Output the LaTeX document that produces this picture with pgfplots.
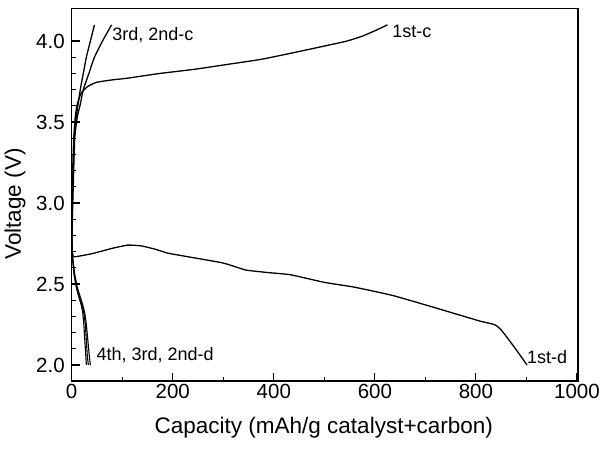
\documentclass[border=0pt]{standalone}
\usepackage{pgfplots}
\pgfplotsset{compat=1.18}
\usepackage{fontspec}
\setmainfont{Liberation Sans}
\begin{document}
\begin{tikzpicture}[x=1pt,y=1pt]
\path[use as bounding box] (0,0) rectangle (600,451);
\begin{axis}[
  at={(71.7pt,70pt)}, anchor=south west,
  scale only axis, width=506.3pt, height=372.7pt,
  xmin=0, xmax=1002, ymin=1.901, ymax=4.202,
  xtick={0,200,...,1000}, ytick={2.0,2.5,...,4.0},
  minor x tick num=1, minor y tick num=4,
  tick pos=left, tick align=inside,
  major tick length=8pt, minor tick length=4pt,
  axis line style={line width=1.3pt},
  every tick/.style={line width=1.1pt, black},
  /pgf/number format/assume math mode=true,
  yticklabel style={/pgf/number format/fixed, /pgf/number format/fixed zerofill, /pgf/number format/precision=1, xshift=-3.5pt},
  xticklabel style={/pgf/number format/1000 sep={}},
  tick label style={font=\fontsize{20.5}{22}\selectfont},
  xlabel={Capacity (mAh/g catalyst+carbon)},
  ylabel={Voltage (V)},
  label style={font=\fontsize{22.5}{25}\selectfont},
  xlabel style={at={(axis description cs:0.498,-0.142)}, anchor=base},
  ylabel style={at={(axis description cs:-0.112,0.475)}, anchor=center},
]
% 1st charge
\addplot[black, line width=1.3pt, smooth, tension=0.3] coordinates {(0,2.70) (1,3.0) (2,3.2) (4,3.4) (7,3.53) (11,3.61) (19,3.68) (32,3.72) (49,3.745) (80,3.76) (109,3.77) (175,3.80) (242,3.825) (309,3.856) (375,3.887) (442,3.93) (509,3.975) (545,4.0) (575,4.03) (602,4.066) (625,4.10)};
% 2nd, 3rd charge
\addplot[black, line width=1.3pt, smooth, tension=0.3] coordinates {(0,2.75) (2,3.1) (5,3.4) (9,3.53) (17,3.70) (23,3.80) (29,3.90) (37,4.00) (45,4.10)};
\addplot[black, line width=1.3pt, smooth, tension=0.3] coordinates {(0,2.75) (3,3.1) (6,3.4) (11,3.53) (17,3.61) (23,3.70) (34,3.80) (45,3.90) (61,4.00) (79,4.10)};
% 1st discharge
\addplot[black, line width=1.3pt, smooth, tension=0.3] coordinates {(0,2.74) (3,2.67) (20,2.675) (44,2.69) (80,2.72) (111,2.74) (138,2.735) (165,2.715) (191,2.69) (245,2.66) (299,2.63) (330,2.60) (346,2.585) (390,2.57) (433,2.557) (500,2.51) (560,2.48) (634,2.43) (701,2.37) (755,2.32) (809,2.27) (836,2.25) (849,2.22) (876,2.11) (901,2.0)};
% 2nd-4th discharge
\addplot[black, line width=1.1pt] coordinates {(0,2.78) (2,2.65) (5,2.55) (9,2.48) (14,2.42) (19,2.37) (22,2.32) (24,2.25) (26,2.15) (28,2.05) (29,2.0)};
\addplot[black, line width=1.1pt] coordinates {(0,2.78) (2,2.65) (5,2.56) (10,2.48) (15,2.42) (20,2.37) (24,2.32) (27,2.25) (29,2.15) (31,2.05) (33,2.0)};
\addplot[black, line width=1.1pt] coordinates {(0,2.78) (2,2.66) (6,2.56) (11,2.48) (17,2.42) (22,2.37) (26,2.32) (29,2.25) (32,2.15) (35,2.05) (37,2.0)};
\node[anchor=base west, inner sep=0pt, font=\fontsize{18}{20}\selectfont] at (axis cs:80,4.006) {3rd, 2nd-c};
\node[anchor=base west, inner sep=0pt, font=\fontsize{18}{20}\selectfont] at (axis cs:634,4.023) {1st-c};
\node[anchor=base west, inner sep=0pt, font=\fontsize{18}{20}\selectfont] at (axis cs:49,2.025) {4th, 3rd, 2nd-d};
\node[anchor=base west, inner sep=0pt, font=\fontsize{18}{20}\selectfont] at (axis cs:901,2.006) {1st-d};
\end{axis}
\end{tikzpicture}
\end{document}
